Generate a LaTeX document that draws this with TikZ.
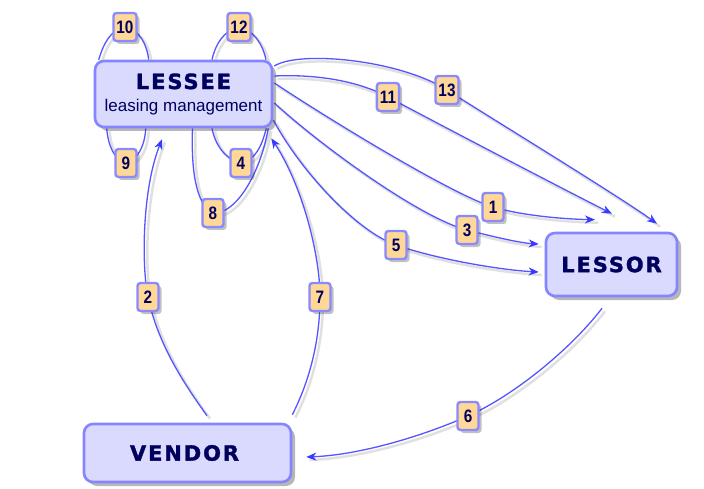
\documentclass[tikz,border=0pt]{standalone}
\usepackage{fontspec}
\setmainfont{Liberation Sans}
\newfontfamily\boxfont{DejaVu Sans}[LetterSpace=9, BoldFeatures={FakeBold=1.5}]
\newfontfamily\labfont{Liberation Sans}[FakeStretch=0.85]
\usetikzlibrary{arrows.meta,shadows,calc,backgrounds}
\definecolor{boxfill}{HTML}{DADAFF}
\definecolor{boxborder}{HTML}{8585FF}
\definecolor{txtnavy}{HTML}{00005E}
\definecolor{labfill}{HTML}{FFD796}
\definecolor{labborder}{HTML}{8A8AFF}
\definecolor{connblue}{HTML}{5555FF}
\definecolor{tipblue}{HTML}{3A3AFF}
\begin{document}
\begin{tikzpicture}[x=1pt,y=-1pt,
  mainbox/.style={draw=boxborder, fill=boxfill, line width=2.6pt, rounded corners=9pt,
    drop shadow={shadow xshift=4pt, shadow yshift=-4pt, opacity=0.35, fill=black!80},
    text=txtnavy, align=center, inner sep=0pt},
  bigword/.style={font=\boxfont\bfseries\fontsize{21}{22}\selectfont},
  labbox/.style={draw=labborder, fill=labfill, line width=2.4pt, rounded corners=3pt,
    minimum width=21pt, minimum height=28pt, inner sep=3pt,
    font=\fontsize{18}{18}\selectfont\labfont\bfseries, text=txtnavy,
    drop shadow={shadow xshift=3pt, shadow yshift=-3pt, opacity=0.3, fill=black!80}},
  conn/.style={draw=connblue, line width=1.3pt,
    preaction={-, draw=black, draw opacity=0.12, line width=2.5pt,
      transform canvas={shift={(3pt,-3pt)}}}},
  arr/.style={conn, -{Stealth[length=10pt,width=8pt,inset=3pt,color=tipblue]}}
]
\useasboundingbox (0,0) rectangle (704,489);

% main boxes
\node[mainbox, minimum width=177pt, minimum height=66pt,
  font=\fontsize{17}{22}\selectfont] (lessee) at (183.5,94)
  {{\boxfont\bfseries\fontsize{21}{22}\selectfont LESSEE}\\leasing management};
\node[mainbox, bigword, minimum width=131pt, minimum height=63pt] (lessor) at (611.5,264.5) {LESSOR};
\node[mainbox, bigword, minimum width=207pt, minimum height=58pt] (vendor) at (187.5,453) {VENDOR\hspace{6pt}};

% labels
\node[labbox] (l1) at (493,207) {1};
\node[labbox] (l2) at (148,297) {2};
\node[labbox] (l3) at (467,230) {3};
\node[labbox] (l4) at (241,163) {4};
\node[labbox] (l5) at (396,245) {5};
\node[labbox] (l6) at (468,416) {6};
\node[labbox] (l7) at (320,297) {7};
\node[labbox] (l8) at (213,213) {8};
\node[labbox] (l9) at (126,163) {9};
\node[labbox] (l10) at (125,27) {10};
\node[labbox] (l11) at (388,97) {11};
\node[labbox] (l12) at (239,27) {12};
\node[labbox] (l13) at (447,90) {13};

\begin{pgfonlayer}{background}
\fill[white] (0,0) rectangle (704,489);
% self loops on LESSEE
\draw[conn] ($(lessee.north west)+(5,0)$) .. controls (103,45) and (110,30) .. (l10.center)
  .. controls (140,30) and (147,45) .. ($(lessee.north west)+(55,0)$);
\draw[conn] ($(lessee.north)+(28.5,0)$) .. controls (215,45) and (224,30) .. (l12.center)
  .. controls (254,30) and (263,45) .. ($(lessee.north)+(82.5,0)$);
\draw[conn] ($(lessee.south west)+(13,0)$) .. controls (108,145) and (114,160) .. (l9.center)
  .. controls (138,160) and (145,145) .. ($(lessee.south west)+(52,0)$);
\draw[conn] ($(lessee.south)+(28.5,0)$) .. controls (215,145) and (226,160) .. (l4.center)
  .. controls (256,160) and (262,145) .. ($(lessee.south east)+(-7,0)$);
\draw[conn] ($(lessee.south)+(9,0)$) .. controls (191,170) and (196,205) .. (l8.center)
  .. controls (235,215) and (260,175) .. ($(lessee.south east)+(-5,0)$);
% LESSEE -> LESSOR
\draw[arr] ($(lessee.east)+(1,-28)$) .. controls (300,50) and (400,60) .. (l13.center)
  .. controls (494,120) and (617,195) .. ($(lessor.north)+(45.5,-8)$);
\draw[arr] ($(lessee.east)+(1,-18)$) .. controls (320,74) and (360,82) .. (l11.center)
  .. controls (430,119.5) and (559,187) .. ($(lessor.north)+(0.5,-18)$);
\draw[arr] ($(lessee.east)+(1,-11)$) .. controls (330,120) and (453,195) .. (l1.center)
  .. controls (520,215) and (560,219) .. ($(lessor.north)+(-16.5,-12)$);
\draw[arr] ($(lessee.east)+(1,9)$) .. controls (320,145) and (420,218) .. (l3.center)
  .. controls (492,236.4) and (520,243) .. ($(lessor.west)+(-6,-20.5)$);
\draw[arr] ($(lessee.east)+(0,26)$) .. controls (300,170) and (356,231) .. (l5.center)
  .. controls (436,259) and (500,270) .. ($(lessor.west)+(-6,7.5)$);
% LESSOR -> VENDOR
\draw[arr] ($(lessor.south)+(-9.5,11)$) .. controls (570,350) and (513,396) .. (l6.center)
  .. controls (423,436) and (360,455) .. ($(vendor.east)+(14,4)$);
% VENDOR -> LESSEE
\draw[arr] ($(vendor.north east)+(0,-8)$) .. controls (310,380) and (320,340) .. (l7.center)
  .. controls (320,254) and (302,185) .. ($(lessee.south east)+(-2,10)$);
\draw[arr] ($(vendor.north)+(19.5,-7)$) .. controls (185,385) and (158,345) .. (l2.center)
  .. controls (141.5,266) and (142,190) .. ($(lessee.south)+(-21.5,11)$);
\end{pgfonlayer}
\end{tikzpicture}
\end{document}
